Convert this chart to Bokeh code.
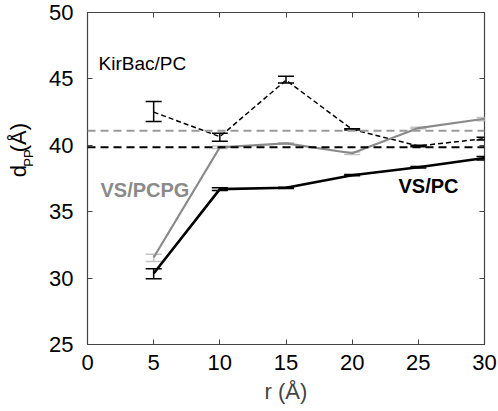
import numpy as np
from bokeh.plotting import figure
from bokeh.layouts import row
from bokeh.models import (ColumnDataSource, Whisker, TeeHead, Span, Label,
                          FixedTicker, LinearAxis, Range1d)
from bokeh.core.properties import value
from bokeh.embed import file_html
from bokeh.resources import INLINE

r = [5, 10, 15, 20, 25, 30]

kir_y = [42.5, 40.65, 44.9, 41.2, 39.95, 40.5]
kir_lo = [41.8, 40.3, 44.7, 41.15, 39.9, 40.4]
kir_hi = [43.3, 40.9, 45.2, 41.25, 40.0, 40.6]

pcpg_y = [31.55, 39.85, 40.15, 39.4, 41.3, 42.0]
pcpg_lo = [31.25, 39.75, 40.1, 39.3, 41.25, 41.85]
pcpg_hi = [31.8, 39.95, 40.2, 39.5, 41.35, 42.1]

pc_y = [30.35, 36.7, 36.8, 37.75, 38.35, 39.05]
pc_lo = [29.95, 36.6, 36.75, 37.7, 38.3, 38.9]
pc_hi = [30.7, 36.8, 36.85, 37.8, 38.4, 39.15]

ref_pcpg = 41.1
ref_pc = 39.85

x_ticks = [0, 5, 10, 15, 20, 25, 30]
y_ticks = [25, 30, 35, 40, 45, 50]

FONT = "Liberation Sans"
GRAY = "#8a8a8a"
GRAY_DASH = "#9a9a9a"
GRAY_ERR = "#c4c4c4"

LW = 36  # width of the y-label strip
H = 411

# ---- y-axis label strip (d_PP(Å) with subscript) ----
lab = figure(width=LW, height=H, output_backend="svg", toolbar_location=None,
             x_range=Range1d(0, LW), y_range=Range1d(0, H),
             min_border=0, x_axis_type=None, y_axis_type=None)
lab.outline_line_color = None
lab.grid.visible = False
lab.text(x=[18], y=[H - 204], text=["d"], angle=np.pi / 2,
         text_font=value(FONT), text_font_size="22px", text_color="black",
         text_align="left", text_baseline="alphabetic")
lab.text(x=[28], y=[H - 191], text=["PP"], angle=np.pi / 2,
         text_font=value(FONT), text_font_size="13px", text_color="black",
         text_align="left", text_baseline="alphabetic")
lab.text(x=[18], y=[H - 173], text=["(Å)"], angle=np.pi / 2,
         text_font=value(FONT), text_font_size="22px", text_color="black",
         text_align="left", text_baseline="alphabetic")

# ---- main plot ----
p = figure(width=498 - LW, height=H, output_backend="svg", toolbar_location=None,
           x_range=Range1d(0, 30), y_range=Range1d(25, 50),
           min_border_left=87 - LW, min_border_right=14, min_border_top=12,
           min_border_bottom=67)
p.grid.visible = False
p.outline_line_color = "#444444"
p.outline_line_width = 1.2
p.background_fill_color = "white"
p.border_fill_color = "white"

for ax in (p.xaxis[0], p.yaxis[0]):
    ax.major_tick_in = 5
    ax.major_tick_out = 0
    ax.minor_tick_in = 0
    ax.minor_tick_out = 0
    ax.axis_line_color = "#444444"
    ax.major_tick_line_color = "#444444"
    ax.major_label_text_font = FONT
    ax.major_label_text_font_size = "22px"
    ax.major_label_text_color = "black"
    ax.axis_label_text_font = FONT
    ax.axis_label_text_font_size = "22px"
    ax.axis_label_text_font_style = "normal"

p.xaxis[0].ticker = FixedTicker(ticks=x_ticks)
p.yaxis[0].ticker = FixedTicker(ticks=y_ticks)
p.xaxis[0].major_label_standoff = 10
p.yaxis[0].major_label_standoff = 14
p.xaxis[0].axis_label = "r (Å)"
p.xaxis[0].axis_label_standoff = 6

for loc in ("above", "right"):
    ticks = x_ticks if loc == "above" else y_ticks
    ax = LinearAxis(ticker=FixedTicker(ticks=ticks))
    ax.major_tick_in = 5
    ax.major_tick_out = 0
    ax.minor_tick_in = 0
    ax.minor_tick_out = 0
    ax.major_label_overrides = {t: "" for t in ticks}
    ax.major_label_standoff = 0
    ax.axis_line_color = None
    ax.major_tick_line_color = "#444444"
    p.add_layout(ax, loc)

# reference lines
p.add_layout(Span(location=ref_pcpg, dimension="width", line_color=GRAY_DASH,
                  line_width=2, line_dash="8 5"))
p.add_layout(Span(location=ref_pc, dimension="width", line_color="black",
                  line_width=2, line_dash="8 5"))

src_kir = ColumnDataSource(dict(x=r, y=kir_y, lo=kir_lo, hi=kir_hi))
src_pcpg = ColumnDataSource(dict(x=r, y=pcpg_y, lo=pcpg_lo, hi=pcpg_hi))
src_pc = ColumnDataSource(dict(x=r, y=pc_y, lo=pc_lo, hi=pc_hi))

p.line("x", "y", source=src_kir, line_color="black", line_width=1.5, line_dash="5 3")
p.line("x", "y", source=src_pcpg, line_color=GRAY, line_width=2.2)
p.line("x", "y", source=src_pc, line_color="black", line_width=2.6)

def whisk(src, color):
    w = Whisker(source=src, base="x", lower="lo", upper="hi",
                line_color=color, line_width=1.5,
                upper_head=TeeHead(size=16, line_color=color, line_width=1.5),
                lower_head=TeeHead(size=16, line_color=color, line_width=1.5))
    p.add_layout(w)

whisk(src_kir, "black")
whisk(src_pcpg, GRAY_ERR)
whisk(src_pc, "black")

p.add_layout(Label(x=0.83, y=45.4, text="KirBac/PC", text_font=FONT,
                   text_font_size="19px", text_color="black"))
p.add_layout(Label(x=0.98, y=35.84, text="VS/PCPG", text_font=FONT,
                   text_font_size="20px", text_font_style="bold", text_color=GRAY))
p.add_layout(Label(x=23.5, y=36.07, text="VS/PC", text_font=FONT,
                   text_font_size="20px", text_font_style="bold", text_color="black"))

layout = row(lab, p, spacing=0)
open("out.html", "w").write(file_html(layout, INLINE))
